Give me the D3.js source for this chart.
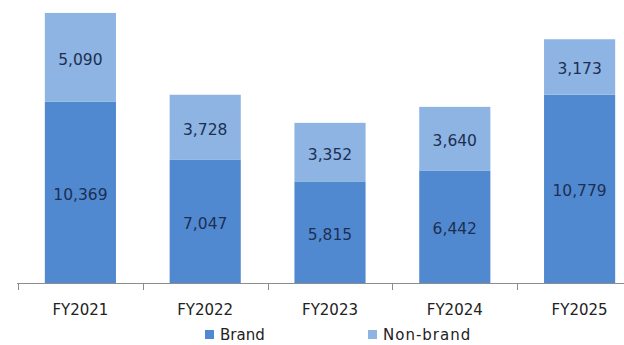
<!DOCTYPE html>
<html>
<head>
<meta charset="utf-8">
<script src="https://cdn.jsdelivr.net/npm/d3@7"></script>
<style>
  html, body { margin: 0; padding: 0; background: #fff; }
  svg { display: block; }
  text { font-family: "DejaVu Sans", Verdana, sans-serif; }
</style>
</head>
<body>
<svg id="chart" width="624" height="345"></svg>
<script>
const categories = ["FY2021", "FY2022", "FY2023", "FY2024", "FY2025"];
const brand = [10369, 7047, 5815, 6442, 10779];
const nonBrand = [5090, 3728, 3352, 3640, 3173];
const seriesNames = ["Brand", "Non-brand"];
const colors = ["#5189D1", "#8DB4E3"];

const svg = d3.select("#chart");
const baseY = 283;

const rows = categories.map((c, i) => ({ cat: c, Brand: brand[i], "Non-brand": nonBrand[i] }));
const stacked = d3.stack().keys(seriesNames)(rows);

const x = d3.scaleBand().domain(categories).range([18, 642]).paddingInner(0.43).paddingOuter(0.215);
const y = d3.scaleLinear().domain([0, 16000]).range([baseY, baseY - 16000 * 0.01747]);

const layers = svg.selectAll("g.layer").data(stacked).join("g")
  .attr("class", "layer")
  .attr("fill", (d, i) => colors[i]);

layers.selectAll("rect").data(d => d).join("rect")
  .attr("x", d => x(d.data.cat))
  .attr("width", x.bandwidth())
  .attr("y", d => y(d[1]))
  .attr("height", d => y(d[0]) - y(d[1]));

const fmt = d3.format(",");
layers.selectAll("text").data(d => d).join("text")
  .attr("x", d => x(d.data.cat) + x.bandwidth() / 2)
  .attr("y", d => (y(d[0]) + y(d[1])) / 2 + 3)
  .attr("text-anchor", "middle")
  .attr("dominant-baseline", "middle")
  .attr("font-size", 15.5)
  .attr("fill", "#1D2F52")
  .text(d => fmt(d[1] - d[0]));

// category axis with boundary ticks
const axisG = svg.append("g");
axisG.append("line")
  .attr("x1", 17).attr("x2", 624)
  .attr("y1", baseY + 0.5).attr("y2", baseY + 0.5)
  .attr("stroke", "#8C8C8C").attr("stroke-width", 1);
const step = x.step();
const tickXs = d3.range(categories.length + 1).map(i => 18 + i * step);
axisG.selectAll("line.tick").data(tickXs).join("line")
  .attr("class", "tick")
  .attr("x1", d => Math.round(d) + 0.5).attr("x2", d => Math.round(d) + 0.5)
  .attr("y1", baseY).attr("y2", baseY + 7)
  .attr("stroke", "#8C8C8C");
axisG.selectAll("text").data(categories).join("text")
  .attr("x", d => x(d) + x.bandwidth() / 2)
  .attr("y", 315)
  .attr("text-anchor", "middle")
  .attr("font-size", 15)
  .attr("fill", "#222")
  .text(d => d);

// legend
const legendX = [205, 368];
const legend = svg.selectAll("g.legend").data(seriesNames).join("g")
  .attr("class", "legend")
  .attr("transform", (d, i) => `translate(${legendX[i]},0)`);
legend.append("rect")
  .attr("x", 0).attr("y", 330).attr("width", 9).attr("height", 9)
  .attr("fill", (d, i) => colors[i]);
legend.append("text")
  .attr("x", 15).attr("y", 340)
  .attr("font-size", 15)
  .attr("fill", "#222")
  .attr("letter-spacing", (d, i) => i === 1 ? 1 : 0)
  .text(d => d);
</script>
</body>
</html>
